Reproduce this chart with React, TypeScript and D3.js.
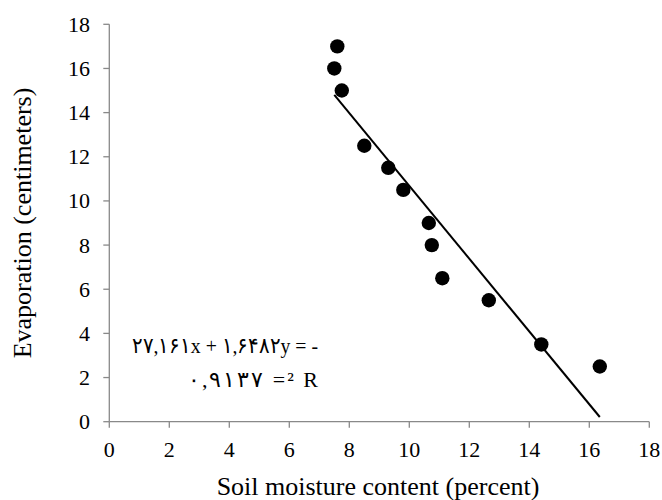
import React from "react";
import * as d3 from "d3";

const moisture = [7.5, 7.6, 7.75, 8.5, 9.3, 9.8, 10.65, 10.75, 11.1, 12.65, 14.4, 16.35];
const evaporation = [16, 17, 15, 12.5, 11.5, 10.5, 9, 8, 6.5, 5.5, 3.5, 2.5];
const xTicks = [0, 2, 4, 6, 8, 10, 12, 14, 16, 18];
const yTicks = [0, 2, 4, 6, 8, 10, 12, 14, 16, 18];
const slope = -1.6482;
const intercept = 27.161;
const equationLine1 = "۲۷,۱۶۱x + ۱,۶۴۸۲y = -";
const equationLine2 = "۰,۹۱۳۷ =² R";
const xTitle = "Soil moisture content (percent)";
const yTitle = "Evaporation (centimeters)";

export default function App() {
  const W = 662, H = 500;
  const x = d3.scaleLinear().domain([0, 18]).range([109.3, 649.3]);
  const y = d3.scaleLinear().domain([0, 18]).range([421.7, 24.3]);
  const axisColor = "#898989";
  const font = "'Liberation Serif', 'Times New Roman', serif";
  const xMin = d3.min(moisture) as number;
  const xMax = d3.max(moisture) as number;
  const line = d3.line<number>().x((d) => x(d)).y((d) => y(slope * d + intercept));
  const ltr = { direction: "ltr", unicodeBidi: "bidi-override" } as any;
  return (
    <svg width={W} height={H} style={{ position: "absolute", left: 0, top: 0, background: "#fff" }} fontFamily={font}>
      <line x1={x(0)} x2={x(0)} y1={y(18)} y2={y(0)} stroke={axisColor} strokeWidth={1.3} />
      <line x1={x(0)} x2={x(18)} y1={y(0)} y2={y(0)} stroke={axisColor} strokeWidth={1.3} />
      {yTicks.map((t) => (
        <g key={"y" + t}>
          <line x1={x(0) - 6} x2={x(0)} y1={y(t)} y2={y(t)} stroke={axisColor} strokeWidth={1.3} />
          <text x={90} y={y(t)} dy="0.34em" textAnchor="end" fontSize={22} fill="#000">{t}</text>
        </g>
      ))}
      {xTicks.map((t) => (
        <g key={"x" + t}>
          <line x1={x(t)} x2={x(t)} y1={y(0)} y2={y(0) + 6} stroke={axisColor} strokeWidth={1.3} />
          <text x={x(t)} y={y(0) + 35} textAnchor="middle" fontSize={22} fill="#000">{t}</text>
        </g>
      ))}
      <path d={line([xMin, xMax]) as string} stroke="#000" strokeWidth={2} fill="none" />
      {moisture.map((m, i) => (
        <circle key={i} cx={x(m)} cy={y(evaporation[i])} r={7.2} fill="#000" />
      ))}
      <text x={132} y={353} fontSize={22} fill="#000" style={ltr} textLength={186} lengthAdjust="spacingAndGlyphs">{equationLine1}</text>
      <text x={188} y={387} fontSize={22} fill="#000" style={ltr} textLength={130} lengthAdjust="spacing">{equationLine2}</text>
      <text x={378} y={495} textAnchor="middle" fontSize={26} fill="#000">{xTitle}</text>
      <text transform={`translate(31, ${(y(0) + y(18)) / 2}) rotate(-90)`} textAnchor="middle" fontSize={26} fill="#000">{yTitle}</text>
    </svg>
  );
}
